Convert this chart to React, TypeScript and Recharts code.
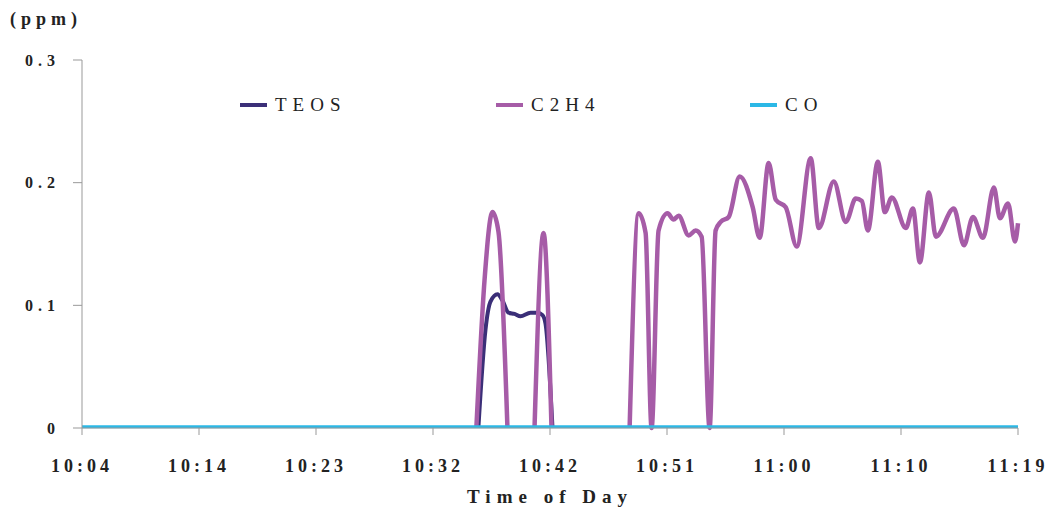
import React from 'react';
import { Legend, Line, LineChart, XAxis, YAxis } from 'recharts';

// minutes after 10:04
const xTickTimes = [0, 9.375, 18.75, 28.125, 37.5, 46.875, 56.25, 65.625, 75];
const xTickLabels = ['10:04', '10:14', '10:23', '10:32', '10:42', '10:51', '11:00', '11:10', '11:19'];
const yTicks = [0, 0.1, 0.2, 0.3];
const yTickLabels = ['0', '0.1', '0.2', '0.3'];

const teosTimes = [31.76, 32.33, 32.73, 33.29, 33.69, 34.17, 34.65, 35.13, 35.94, 36.5, 36.9, 37.14, 37.7];
const teosValues = [0, 0.08, 0.103, 0.109, 0.104, 0.094, 0.093, 0.091, 0.094, 0.094, 0.092, 0.085, 0];

const c2h4Times = [
  31.6, 32.25, 32.89, 33.37, 34.09, 35.0, 36.26, 36.98, 37.62, 40.0, 43.88, 44.6, 45.16, 45.64,
  46.2, 46.92, 47.4, 47.81, 48.61, 49.17, 49.65, 50.29, 50.77, 51.18, 51.82, 52.7, 53.74, 54.3,
  55.02, 55.59, 56.39, 57.27, 58.39, 59.04, 60.24, 61.2, 62.0, 62.49, 62.97, 63.77, 64.33, 64.89,
  66.01, 66.58, 67.14, 67.86, 68.42, 69.86, 70.67, 71.39, 72.19, 73.07, 73.55, 74.2, 74.76, 75.0,
];
const c2h4Values = [
  0, 0.12, 0.176, 0.16, 0, null, 0, 0.159, 0, null, 0, 0.175, 0.159, 0,
  0.161, 0.175, 0.17, 0.173, 0.157, 0.161, 0.156, 0, 0.161, 0.168, 0.172, 0.205, 0.18, 0.155,
  0.216, 0.186, 0.18, 0.148, 0.22, 0.163, 0.201, 0.168, 0.187, 0.185, 0.161, 0.217, 0.176, 0.188,
  0.163, 0.179, 0.135, 0.192, 0.156, 0.179, 0.149, 0.172, 0.155, 0.196, 0.171, 0.183, 0.152, 0.167,
];

const coTimes = [0, 15, 30, 45, 60, 75];
const coValues = [0.001, 0.001, 0.001, 0.001, 0.001, 0.001];

const seriesNames = ['TEOS', 'C2H4', 'CO'];
const seriesColors = ['#3b2f78', '#a65ca7', '#2bb8e6'];

const zip = (ts: number[], vs: (number | null)[]) => ts.map((t, i) => ({ t, v: vs[i] }));
const teosData = zip(teosTimes, teosValues);
const c2h4Data = zip(c2h4Times, c2h4Values);
const coData = zip(coTimes, coValues);

const FONT = '"Times New Roman", "Liberation Serif", serif';

const legendLeft = [240, 496, 750];

const LegendContent = () => (
  <div style={{ position: 'relative', width: 1052, height: 0 }}>
    {seriesNames.map((name, i) => (
      <div
        key={name}
        style={{
          position: 'absolute',
          left: legendLeft[i],
          top: 94,
          display: 'flex',
          alignItems: 'center',
          fontFamily: FONT,
          fontSize: 19,
          letterSpacing: 6,
          color: '#222',
          whiteSpace: 'nowrap',
        }}
      >
        <span style={{ display: 'inline-block', width: 27, height: 4, background: seriesColors[i], marginRight: 8 }} />
        <span>{name}</span>
      </div>
    ))}
  </div>
);

export default function App() {
  return (
    <div style={{ position: 'absolute', left: 0, top: 0, width: 1052, height: 511, background: '#fff', fontFamily: FONT }}>
      <div
        style={{
          position: 'absolute',
          left: 10,
          top: 9,
          fontFamily: FONT,
          fontWeight: 'bold',
          fontSize: 18,
          letterSpacing: 5,
          color: '#222',
        }}
      >
        (ppm)
      </div>
      <LineChart width={1052} height={511} data={coData} margin={{ top: 60, right: 34, left: 0, bottom: 0 }} style={{ fontFamily: FONT }}>
        <XAxis
          dataKey="t"
          type="number"
          domain={[0, 75]}
          ticks={xTickTimes}
          tickFormatter={(v: number) => xTickLabels[xTickTimes.indexOf(v)] ?? ''}
          height={83}
          tickSize={7}
          tickMargin={24}
          stroke="#999"
          tick={{ fill: '#222', fontWeight: 'bold', fontSize: 18, style: { fontFamily: FONT, letterSpacing: 4 } }}
          label={{
            value: 'Time of Day',
            position: 'insideBottom',
            offset: 8,
            fill: '#222',
            fontWeight: 'bold',
            fontSize: 19,
            style: { fontFamily: FONT, letterSpacing: 6 },
          }}
        />
        <YAxis
          type="number"
          domain={[0, 0.3]}
          ticks={yTicks}
          tickFormatter={(v: number) => yTickLabels[yTicks.indexOf(v)] ?? ''}
          width={82}
          tickSize={9}
          tickMargin={13}
          stroke="#999"
          tick={{ fill: '#222', fontWeight: 'bold', fontSize: 16, style: { fontFamily: FONT, letterSpacing: 5 } }}
        />
        <Legend layout="horizontal" verticalAlign="middle" align="center" wrapperStyle={{ top: 0, left: 0, width: 1052, height: 0 }} content={<LegendContent />} />
        <Line data={teosData} dataKey="v" name="TEOS" type="monotone" stroke={seriesColors[0]} strokeWidth={4} dot={false} isAnimationActive={false} />
        <Line data={c2h4Data} dataKey="v" name="C2H4" type="monotone" stroke={seriesColors[1]} strokeWidth={4.5} dot={false} isAnimationActive={false} />
        <Line data={coData} dataKey="v" name="CO" type="monotone" stroke={seriesColors[2]} strokeWidth={3} dot={false} isAnimationActive={false} />
      </LineChart>
    </div>
  );
}
